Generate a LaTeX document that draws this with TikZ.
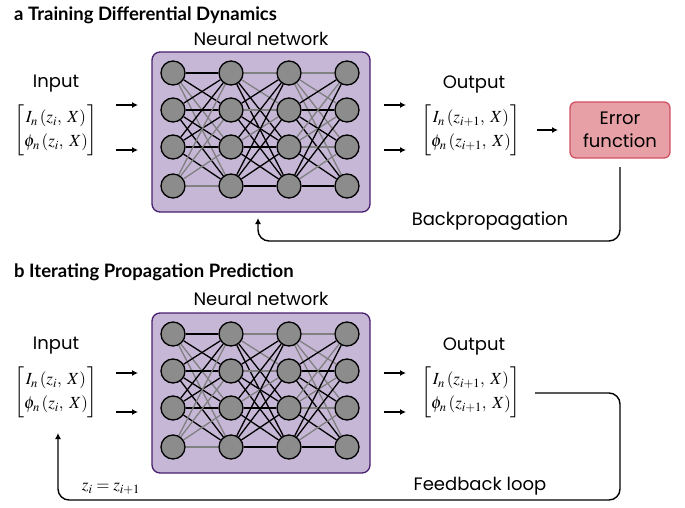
\documentclass[tikz,border=0pt]{standalone}
\usepackage{amsmath}
\usepackage{mathptmx}
\usepackage{fontspec}
\setmainfont{Lato}
\newfontfamily\lblfont{Poppins}
\usetikzlibrary{arrows.meta}
\pgfdeclarelayer{bgbox}
\pgfdeclarelayer{bgedge}
\pgfsetlayers{bgbox,bgedge,main}
\definecolor{boxfill}{RGB}{198,183,214}
\definecolor{boxline}{RGB}{72,30,110}
\definecolor{nodegray}{RGB}{140,140,140}
\definecolor{edgegray}{RGB}{128,128,128}
\definecolor{errfill}{RGB}{231,160,166}
\definecolor{errline}{RGB}{208,82,98}
\tikzset{
  x=1pt, y=-1pt,
  neuron/.style={circle, draw=black, line width=1.3pt, fill=nodegray, minimum size=24pt, inner sep=0pt},
  nnbox/.style={draw=boxline, fill=boxfill, line width=1.3pt, rounded corners=8pt},
  ek/.style={draw=black, line width=1.3pt},
  eg/.style={draw=edgegray, line width=1.3pt},
  lbl/.style={font=\lblfont\fontsize{18}{22}\selectfont, inner sep=0pt},
  ttl/.style={font=\fontsize{18.5}{22}\selectfont\bfseries, inner sep=0pt, anchor=west},
  mat/.style={font=\fontsize{17}{24}\selectfont, inner sep=0pt},
  arr/.style={line width=1.4pt, -{Latex[length=6pt,width=6pt]}},
  loopline/.style={line width=1.4pt, rounded corners=11pt},
  errbox/.style={draw=errline, fill=errfill, line width=1.3pt, rounded corners=6pt,
     minimum width=100pt, minimum height=56pt, align=center,
     font=\lblfont\fontsize{18}{23}\selectfont},
}
\newcommand{\mynet}[2]{%
  \begin{scope}[shift={(0,#2)}]
    \begin{pgfonlayer}{bgbox}
      \path[nnbox] (152,52) rectangle (370,212);
    \end{pgfonlayer}
    \foreach \c/\x in {1/173,2/231,3/289,4/347}{
      \foreach \r/\y in {1/73,2/110,3/147,4/186}{
        \node[neuron] (#1-\c-\r) at (\x,\y) {};
      }
    }
    \begin{pgfonlayer}{bgedge}
      \foreach \i/\j/\s in {1/1/ek,1/2/ek,1/3/eg,1/4/eg,2/1/ek,2/2/ek,2/3/ek,2/4/ek,
                            3/1/ek,3/2/ek,3/3/ek,3/4/ek,4/1/eg,4/2/eg,4/3/eg,4/4/eg}{
        \draw[\s] (#1-1-\i) -- (#1-2-\j);
      }
      \foreach \i/\j/\s in {1/1/eg,1/2/eg,1/3/ek,1/4/ek,2/1/ek,2/2/eg,2/3/ek,2/4/ek,
                            3/1/ek,3/2/eg,3/3/ek,3/4/ek,4/1/ek,4/2/ek,4/3/ek,4/4/ek}{
        \draw[\s] (#1-2-\i) -- (#1-3-\j);
      }
      \foreach \i/\j/\s in {1/1/eg,1/2/eg,1/3/eg,1/4/eg,2/1/ek,2/2/ek,2/3/ek,2/4/ek,
                            3/1/eg,3/2/eg,3/3/eg,3/4/ek,4/1/ek,4/2/ek,4/3/eg,4/4/ek}{
        \draw[\s] (#1-3-\i) -- (#1-4-\j);
      }
    \end{pgfonlayer}
  \end{scope}%
}
\newcommand{\inmat}{$\begin{bmatrix} I_n\,(z_i,\; X)\\ \phi_n\,(z_i,\; X)\end{bmatrix}$}
\newcommand{\outmat}{$\begin{bmatrix} I_n\,(z_{i+1},\; X)\\ \phi_n\,(z_{i+1},\; X)\end{bmatrix}$}
\begin{document}
\begin{tikzpicture}
\useasboundingbox (0,0) rectangle (685,508);

% ---------- panel a ----------
\node[ttl] (ta) at (14,15) {a Training Differential Dynamics};
\node[lbl] (nna) at (261,39) {Neural network};
\mynet{A}{0}
\node[lbl] (inla) at (56,84) {Input};
\node[mat] (ina) at (56,130) {\inmat};
\node[lbl] (outla) at (474,84) {Output};
\node[mat] (outa) at (471,130) {\outmat};
\node[errbox] (err) at (620,130) {Error\\function};

\coordinate (a1s) at (116,105); \coordinate (a1e) at (138,105);
\coordinate (a2s) at (116,150); \coordinate (a2e) at (138,150);
\coordinate (a3s) at (384,105); \coordinate (a3e) at (406,105);
\coordinate (a4s) at (384,150); \coordinate (a4e) at (406,150);
\coordinate (a5s) at (537,130); \coordinate (a5e) at (558,130);
\draw[arr] (a1s) -- (a1e);
\draw[arr] (a2s) -- (a2e);
\draw[arr] (a3s) -- (a3e);
\draw[arr] (a4s) -- (a4e);
\draw[arr] (a5s) -- (a5e);

\coordinate (bps) at (620,167);
\coordinate (bpc) at (620,241);
\coordinate (bpe) at (258,218);
\draw[loopline, arr] (bps) -- (bpc) -| (bpe);
\node[lbl] (bpl) at (490,221) {Backpropagation};

% ---------- panel b ----------
\node[ttl] (tb) at (14,272) {b Iterating Propagation Prediction};
\node[lbl] (nnb) at (261,299) {Neural network};
\mynet{B}{261}
\node[lbl] (inlb) at (56,346) {Input};
\node[mat] (inb) at (56,392) {\inmat};
\node[lbl] (outlb) at (474,346) {Output};
\node[mat] (outb) at (471,392) {\outmat};

\coordinate (b1s) at (116,373); \coordinate (b1e) at (138,373);
\coordinate (b2s) at (116,412); \coordinate (b2e) at (138,412);
\coordinate (b3s) at (384,373); \coordinate (b3e) at (406,373);
\coordinate (b4s) at (384,412); \coordinate (b4e) at (406,412);
\draw[arr] (b1s) -- (b1e);
\draw[arr] (b2s) -- (b2e);
\draw[arr] (b3s) -- (b3e);
\draw[arr] (b4s) -- (b4e);

\coordinate (fbs) at (535,393);
\coordinate (fbc) at (620,500);
\coordinate (fbe) at (58,433);
\draw[loopline, arr] (fbs) -| (fbc) -| (fbe);
\node[lbl] (fbl) at (480,486) {Feedback loop};
\node[mat] (zl) at (111,489) {$z_i = z_{i+1}$};
\end{tikzpicture}
\end{document}
